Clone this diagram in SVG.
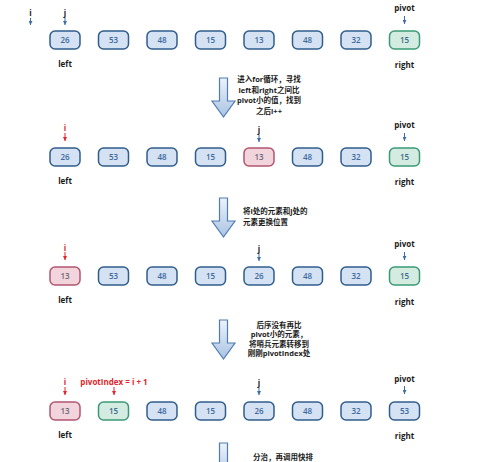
<svg xmlns="http://www.w3.org/2000/svg" width="500" height="462" viewBox="0 0 500 462">
<defs>
<linearGradient id="ag" x1="0" y1="0" x2="0" y2="1">
<stop offset="0" stop-color="#eef3fa"/>
<stop offset="1" stop-color="#a9c3e3"/>
</linearGradient>
<marker id="hb" viewBox="0 0 6 6" refX="3" refY="6" markerWidth="4" markerHeight="4" markerUnits="userSpaceOnUse">
<path d="M0,0 L6,0 L3,6 Z" fill="#3d6ea6"/>
</marker>
<marker id="hr" viewBox="0 0 6 6" refX="3" refY="6" markerWidth="4" markerHeight="4" markerUnits="userSpaceOnUse">
<path d="M0,0 L6,0 L3,6 Z" fill="#e0262c"/>
</marker>
<path id="bigarrow" d="M-4,0 H4 V23 H11.5 L0,39 L-11.5,23 H-4 Z"/>
</defs>
<style>
.b rect{fill:#d5e2f3;stroke:#2f5d8c;stroke-width:1.5}
.p rect{fill:#f2d4dc;stroke:#b2566f;stroke-width:1.5}
.g rect{fill:#d3ebe0;stroke:#3a9a76;stroke-width:1.5}
.n{font-family:"Open Sans","Noto Sans CJK SC",sans-serif;font-size:8px;font-weight:600;text-anchor:middle;fill:#3f6a9e}
.p .n{fill:#6b6878}
.g .n{fill:#3e6b8c}
.lb{font-family:"Open Sans","Noto Sans CJK SC",sans-serif;font-size:8px;font-weight:700;text-anchor:middle;fill:#1a1a1a}
.red{fill:#e0262c}
.cn{font-family:"Open Sans","Noto Sans CJK SC",sans-serif;font-size:7.5px;font-weight:700;fill:#1a1a1a}
.pt{stroke:#3d6ea6;stroke-width:1;marker-end:url(#hb)}
.ptr{stroke:#e0262c;stroke-width:1;marker-end:url(#hr)}
.ba{fill:url(#ag);stroke:#4f7db5;stroke-width:1.2}
</style>

<!-- Row 1 -->
<g id="row1" transform="translate(0,31)">
<g id="r1n1" class="b"><rect x="50" y="0" width="30" height="18" rx="5"/><text class="n" x="65" y="12">26</text></g>
<g id="r1n2" class="b"><rect x="98.5" y="0" width="30" height="18" rx="5"/><text class="n" x="113.5" y="12">53</text></g>
<g id="r1n3" class="b"><rect x="147" y="0" width="30" height="18" rx="5"/><text class="n" x="162" y="12">48</text></g>
<g id="r1n4" class="b"><rect x="195.5" y="0" width="30" height="18" rx="5"/><text class="n" x="210.5" y="12">15</text></g>
<g id="r1n5" class="b"><rect x="244" y="0" width="30" height="18" rx="5"/><text class="n" x="259" y="12">13</text></g>
<g id="r1n6" class="b"><rect x="292.5" y="0" width="30" height="18" rx="5"/><text class="n" x="307.5" y="12">48</text></g>
<g id="r1n7" class="b"><rect x="341" y="0" width="30" height="18" rx="5"/><text class="n" x="356" y="12">32</text></g>
<g id="r1n8" class="g"><rect x="389.5" y="0" width="30" height="18" rx="5"/><text class="n" x="404.5" y="12">15</text></g>
<g id="r1labels">
<text class="lb" x="30.5" y="-15">i</text>
<text class="lb" x="65" y="-15">j</text>
<text class="lb" x="404.5" y="-20">pivot</text>
<text class="lb" x="65" y="36">left</text>
<text class="lb" x="404.5" y="37">right</text>
</g>
</g>

<!-- Row 2 -->
<g id="row2" transform="translate(0,148)">
<g id="r2n1" class="b"><rect x="50" y="0" width="30" height="18" rx="5"/><text class="n" x="65" y="12">26</text></g>
<g id="r2n2" class="b"><rect x="98.5" y="0" width="30" height="18" rx="5"/><text class="n" x="113.5" y="12">53</text></g>
<g id="r2n3" class="b"><rect x="147" y="0" width="30" height="18" rx="5"/><text class="n" x="162" y="12">48</text></g>
<g id="r2n4" class="b"><rect x="195.5" y="0" width="30" height="18" rx="5"/><text class="n" x="210.5" y="12">15</text></g>
<g id="r2n5" class="p"><rect x="244" y="0" width="30" height="18" rx="5"/><text class="n" x="259" y="12">13</text></g>
<g id="r2n6" class="b"><rect x="292.5" y="0" width="30" height="18" rx="5"/><text class="n" x="307.5" y="12">48</text></g>
<g id="r2n7" class="b"><rect x="341" y="0" width="30" height="18" rx="5"/><text class="n" x="356" y="12">32</text></g>
<g id="r2n8" class="g"><rect x="389.5" y="0" width="30" height="18" rx="5"/><text class="n" x="404.5" y="12">15</text></g>
<g id="r2labels">
<text class="lb red" x="65" y="-17">i</text>
<text class="lb" x="259" y="-15">j</text>
<text class="lb" x="404.5" y="-20">pivot</text>
<text class="lb" x="65" y="36">left</text>
<text class="lb" x="404.5" y="37">right</text>
</g>
</g>

<!-- Row 3 -->
<g id="row3" transform="translate(0,267)">
<g id="r3n1" class="p"><rect x="50" y="0" width="30" height="18" rx="5"/><text class="n" x="65" y="12">13</text></g>
<g id="r3n2" class="b"><rect x="98.5" y="0" width="30" height="18" rx="5"/><text class="n" x="113.5" y="12">53</text></g>
<g id="r3n3" class="b"><rect x="147" y="0" width="30" height="18" rx="5"/><text class="n" x="162" y="12">48</text></g>
<g id="r3n4" class="b"><rect x="195.5" y="0" width="30" height="18" rx="5"/><text class="n" x="210.5" y="12">15</text></g>
<g id="r3n5" class="b"><rect x="244" y="0" width="30" height="18" rx="5"/><text class="n" x="259" y="12">26</text></g>
<g id="r3n6" class="b"><rect x="292.5" y="0" width="30" height="18" rx="5"/><text class="n" x="307.5" y="12">48</text></g>
<g id="r3n7" class="b"><rect x="341" y="0" width="30" height="18" rx="5"/><text class="n" x="356" y="12">32</text></g>
<g id="r3n8" class="g"><rect x="389.5" y="0" width="30" height="18" rx="5"/><text class="n" x="404.5" y="12">15</text></g>
<g id="r3labels">
<text class="lb red" x="65" y="-16">i</text>
<text class="lb" x="259" y="-15">j</text>
<text class="lb" x="404.5" y="-20">pivot</text>
<text class="lb" x="65" y="36">left</text>
<text class="lb" x="404.5" y="38">right</text>
</g>
</g>

<!-- Row 4 -->
<g id="row4" transform="translate(0,402)">
<g id="r4n1" class="p"><rect x="50" y="0" width="30" height="18" rx="5"/><text class="n" x="65" y="12">13</text></g>
<g id="r4n2" class="g"><rect x="98.5" y="0" width="30" height="18" rx="5"/><text class="n" x="113.5" y="12">15</text></g>
<g id="r4n3" class="b"><rect x="147" y="0" width="30" height="18" rx="5"/><text class="n" x="162" y="12">48</text></g>
<g id="r4n4" class="b"><rect x="195.5" y="0" width="30" height="18" rx="5"/><text class="n" x="210.5" y="12">15</text></g>
<g id="r4n5" class="b"><rect x="244" y="0" width="30" height="18" rx="5"/><text class="n" x="259" y="12">26</text></g>
<g id="r4n6" class="b"><rect x="292.5" y="0" width="30" height="18" rx="5"/><text class="n" x="307.5" y="12">48</text></g>
<g id="r4n7" class="b"><rect x="341" y="0" width="30" height="18" rx="5"/><text class="n" x="356" y="12">32</text></g>
<g id="r4n8" class="b"><rect x="389.5" y="0" width="30" height="18" rx="5"/><text class="n" x="404.5" y="12">53</text></g>
<g id="r4labels">
<text class="lb red" x="65" y="-17">i</text>
<text class="lb red" x="114" y="-17">pivotIndex = i + 1</text>
<text class="lb" x="259" y="-16">j</text>
<text class="lb" x="404.5" y="-20">pivot</text>
<text class="lb" x="65" y="36">left</text>
<text class="lb" x="404.5" y="37">right</text>
</g>
</g>

<!-- Step notes -->
<g id="note1">
<text class="cn" x="269" y="82" text-anchor="middle">进入for循环，寻找</text>
<text class="cn" x="269" y="92.5" text-anchor="middle">left和right之间比</text>
<text class="cn" x="269" y="103" text-anchor="middle">pivot小的值，找到</text>
<text class="cn" x="269" y="113.5" text-anchor="middle">之后i++</text>
</g>
<g id="note2">
<text class="cn" x="243" y="214">将i处的元素和j处的</text>
<text class="cn" x="243" y="224.5">元素更换位置</text>
</g>
<g id="note3">
<text class="cn" x="279" y="327.5" text-anchor="middle">后序没有再比</text>
<text class="cn" x="279" y="337" text-anchor="middle">pivot小的元素，</text>
<text class="cn" x="279" y="346.5" text-anchor="middle">将哨兵元素转移到</text>
<text class="cn" x="279" y="356" text-anchor="middle">刚刚pivotIndex处</text>
</g>
<g id="note4">
<text class="cn" x="253" y="460">分治，再调用快排</text>
</g>

<!-- Connectors -->
<g id="connectors">
<line class="pt" x1="30.5" y1="18" x2="30.5" y2="25"/>
<line class="pt" x1="65" y1="18" x2="65" y2="25"/>
<line class="pt" x1="404.5" y1="16" x2="404.5" y2="24"/>
<line class="ptr" x1="65" y1="133" x2="65" y2="141"/>
<line class="pt" x1="259" y1="135" x2="259" y2="142"/>
<line class="pt" x1="404.5" y1="133" x2="404.5" y2="141"/>
<line class="ptr" x1="65" y1="252" x2="65" y2="260"/>
<line class="pt" x1="259" y1="254" x2="259" y2="261"/>
<line class="pt" x1="404.5" y1="252" x2="404.5" y2="260"/>
<line class="ptr" x1="65" y1="387" x2="65" y2="395"/>
<line class="ptr" x1="114" y1="387" x2="114" y2="395"/>
<line class="pt" x1="259" y1="388" x2="259" y2="395"/>
<line class="pt" x1="404.5" y1="386" x2="404.5" y2="394"/>
<use class="ba" href="#bigarrow" x="223.5" y="78"/>
<use class="ba" href="#bigarrow" x="223.5" y="198"/>
<use class="ba" href="#bigarrow" x="223.5" y="320"/>
<use class="ba" href="#bigarrow" x="223.5" y="443"/>
</g>
</svg>
